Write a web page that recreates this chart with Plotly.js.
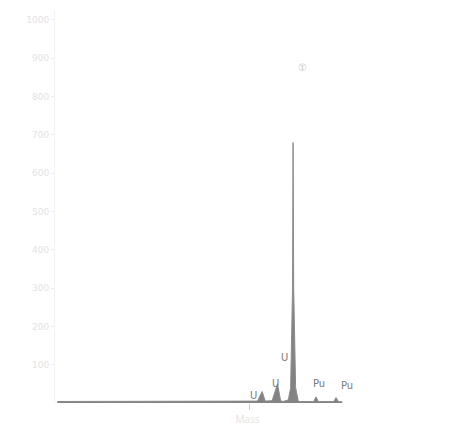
<!DOCTYPE html>
<html>
<head>
<meta charset="utf-8">
<script src="https://cdn.plot.ly/plotly-3.0.1.min.js"></script>
<style>html,body{margin:0;padding:0;background:#fff;}#chart{width:453px;height:426px;}</style>
</head>
<body>
<div id="chart"></div>
<script>
// Spectrum (mass vs counts)
const massValues = [207.3, 232.5, 233.3, 233.9, 234.3, 235.2, 235.9, 236.3, 236.6, 237.3, 237.6, 237.85, 237.92, 238.0, 238.25, 238.6, 240.6, 240.9, 241.2, 243.2, 243.5, 243.8, 244.3];
const countValues = [4, 4, 5, 30, 5, 6, 50, 6, 4, 8, 40, 300, 680, 300, 40, 4, 4, 16, 4, 4, 14, 4, 3];

// Peak labels
const labelText = ["U", "U", "U", "Pu", "Pu", "①"];
const labelX = [232.8, 235.7, 236.8, 241.3, 244.9, 239.1];
const labelY = [20, 52, 120, 52, 47, 875];

const yTickVals = [100, 200, 300, 400, 500, 600, 700, 800, 900, 1000];
const xTickVals = [232.3];

const trace = {
  x: massValues, y: countValues, type: 'scatter', mode: 'lines',
  fill: 'tozeroy', fillcolor: 'rgba(100,100,100,0.8)',
  line: {color: '#8c8c8c', width: 1}, hoverinfo: 'skip'
};

const annotations = labelText.map((t, i) => ({
  x: labelX[i], y: labelY[i], text: t, showarrow: false,
  font: {family: 'DejaVu Sans', size: 10, color: i === 5 ? '#c4c4c4' : '#7a7a7a'}
}));

const layout = {
  width: 453, height: 426,
  margin: {l: 55, r: 13, t: 10, b: 23},
  paper_bgcolor: '#fff', plot_bgcolor: '#fff',
  showlegend: false,
  xaxis: {range: [207, 257], showgrid: false, zeroline: false, showline: false,
    tickvals: xTickVals, ticktext: [''], ticks: 'outside', ticklen: 6, tickcolor: '#cfcfcf', tickwidth: 1,
    title: {text: 'Mass', font: {size: 10, color: '#e3e3e3'}, standoff: 6}},
  yaxis: {range: [0, 1026], showgrid: false, zeroline: false, showline: true, linecolor: '#f2f2f2',
    tickvals: yTickVals, ticks: 'outside', ticklen: 3, tickcolor: '#ececec',
    tickfont: {family: 'DejaVu Sans', size: 9, color: '#e2e2e2'}},
  annotations: annotations
};

Plotly.newPlot('chart', [trace], layout, {displayModeBar: false, staticPlot: true});
</script>
</body>
</html>
